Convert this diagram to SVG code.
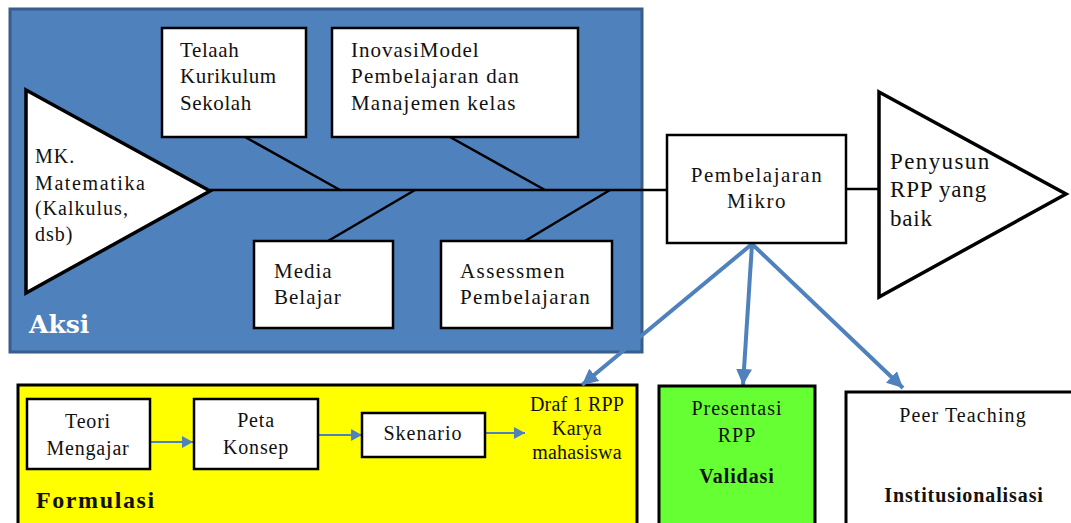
<svg xmlns="http://www.w3.org/2000/svg" width="1071" height="523" viewBox="0 0 1071 523">
  <style>
    .t { font-family: "Liberation Serif", "Times New Roman", serif; font-size: 21px; fill: #111; }
    .f20 { font-size: 20px; }
    .f23 { font-size: 23px; }
    .f24 { font-size: 24px; }
    .c { text-anchor: middle; }
    .b { font-weight: bold; }
    .box { fill: #fff; stroke: #000; stroke-width: 2.5; }
    .bone { stroke: #000; stroke-width: 2.5; fill: none; }
    .tri { fill: #fff; stroke: #000; stroke-width: 3.5; stroke-linejoin: miter; }
    .big { stroke: #4f81bd; stroke-width: 4; fill: none; }
    .small { stroke: #4f81bd; stroke-width: 2; fill: none; }
  </style>
  <defs>
    <marker id="bigHead" markerUnits="userSpaceOnUse" markerWidth="18" markerHeight="16" refX="16" refY="8" orient="auto">
      <path d="M0,0 L16,8 L0,16 Z" fill="#4f81bd"/>
    </marker>
    <marker id="smallHead" markerUnits="userSpaceOnUse" markerWidth="12" markerHeight="12" refX="11" refY="6" orient="auto">
      <path d="M0,0 L11,6 L0,12 Z" fill="#4f81bd"/>
    </marker>
  </defs>

  <rect width="1071" height="523" fill="#fff"/>

  <g id="aksi">
    <rect x="10" y="9" width="632" height="343" fill="#4f81bd" stroke="#385d8a" stroke-width="3"/>
    <text x="29" y="333" font-family="'DejaVu Serif', serif" font-weight="bold" font-size="25" fill="#fff">Aksi</text>
  </g>

  <g id="formulasi">
    <rect x="18" y="385" width="619" height="145" fill="#ffff00" stroke="#000" stroke-width="3"/>
    <text class="t b f24" x="36" y="508" letter-spacing="1.6">Formulasi</text>
  </g>

  <g id="connectors">
    <line class="bone" x1="210" y1="190" x2="667" y2="190"/>
    <line class="bone" x1="846" y1="189" x2="878" y2="189"/>
    <line class="bone" x1="245" y1="137" x2="340" y2="190"/>
    <line class="bone" x1="450" y1="137" x2="545" y2="190"/>
    <line class="bone" x1="415" y1="190" x2="328" y2="241"/>
    <line class="bone" x1="610" y1="190" x2="525" y2="241"/>
    <line class="big" x1="752" y1="244" x2="582" y2="385" marker-end="url(#bigHead)"/>
    <line class="big" x1="752" y1="244" x2="743" y2="385" marker-end="url(#bigHead)"/>
    <line class="big" x1="752" y1="244" x2="903" y2="388" marker-end="url(#bigHead)"/>
    <line class="small" x1="150" y1="442" x2="193" y2="442" marker-end="url(#smallHead)"/>
    <line class="small" x1="318" y1="435" x2="362" y2="435" marker-end="url(#smallHead)"/>
    <line class="small" x1="485" y1="433" x2="525" y2="433" marker-end="url(#smallHead)"/>
  </g>

  <g id="mk-matematika">
    <polygon class="tri" points="26,90 210,191 26,293"/>
    <text class="t f20" x="35" y="163" letter-spacing="1">MK.</text>
    <text class="t f20" x="35" y="190" letter-spacing="1.6">Matematika</text>
    <text class="t f20" x="35" y="215" letter-spacing="1">(Kalkulus,</text>
    <text class="t f20" x="35" y="241" letter-spacing="1">dsb)</text>
  </g>

  <g id="telaah">
    <rect class="box" x="162" y="28" width="144" height="109"/>
    <text class="t" x="180" y="57" letter-spacing="0.6">Telaah</text>
    <text class="t" x="180" y="83" letter-spacing="0.5">Kurikulum</text>
    <text class="t" x="180" y="110" letter-spacing="0.6">Sekolah</text>
  </g>

  <g id="inovasi">
    <rect class="box" x="332" y="28" width="246" height="109"/>
    <text class="t" x="351" y="57" letter-spacing="1">InovasiModel</text>
    <text class="t" x="351" y="83" letter-spacing="1.2">Pembelajaran dan</text>
    <text class="t" x="351" y="110" letter-spacing="1.2">Manajemen kelas</text>
  </g>

  <g id="media">
    <rect class="box" x="254" y="241" width="139" height="87"/>
    <text class="t" x="274" y="278" letter-spacing="1">Media</text>
    <text class="t" x="274" y="304" letter-spacing="1">Belajar</text>
  </g>

  <g id="assessmen">
    <rect class="box" x="441" y="241" width="171" height="87"/>
    <text class="t" x="460" y="278" letter-spacing="1.4">Assessmen</text>
    <text class="t" x="460" y="304" letter-spacing="1.4">Pembelajaran</text>
  </g>

  <g id="pembelajaran-mikro">
    <rect class="box" x="667" y="135" width="179" height="108"/>
    <text class="t c" x="757" y="182" letter-spacing="1.5">Pembelajaran</text>
    <text class="t c" x="757" y="208" letter-spacing="1.5">Mikro</text>
  </g>

  <g id="penyusun-rpp">
    <polygon class="tri" points="879,92 1066,194 879,297"/>
    <text class="t f23" x="890" y="169" letter-spacing="1.4">Penyusun</text>
    <text class="t f23" x="890" y="197" letter-spacing="0.8">RPP yang</text>
    <text class="t f23" x="890" y="226" letter-spacing="0.8">baik</text>
  </g>

  <g id="teori">
    <rect class="box" x="27" y="399" width="123" height="70"/>
    <text class="t c f20" x="88" y="428" letter-spacing="0.8">Teori</text>
    <text class="t c f20" x="88" y="455" letter-spacing="0.8">Mengajar</text>
  </g>

  <g id="peta">
    <rect class="box" x="194" y="399" width="124" height="70"/>
    <text class="t c f20" x="256" y="427" letter-spacing="0.8">Peta</text>
    <text class="t c f20" x="256" y="454" letter-spacing="0.8">Konsep</text>
  </g>

  <g id="skenario">
    <rect class="box" x="362" y="413" width="123" height="44"/>
    <text class="t c f20" x="423" y="440" letter-spacing="1">Skenario</text>
  </g>

  <g id="draf">
    <text class="t c f20" x="577" y="411" letter-spacing="0.2">Draf 1 RPP</text>
    <text class="t c f20" x="577" y="435" letter-spacing="0.2">Karya</text>
    <text class="t c f20" x="577" y="459" letter-spacing="0.2">mahasiswa</text>
  </g>

  <g id="validasi">
    <rect x="659" y="386" width="156" height="145" fill="#66ff33" stroke="#000" stroke-width="3"/>
    <text class="t c f20" x="737" y="415" letter-spacing="1">Presentasi</text>
    <text class="t c f20" x="737" y="442" letter-spacing="1">RPP</text>
    <text class="t c b f20" x="737" y="483" letter-spacing="0.9">Validasi</text>
  </g>

  <g id="institusionalisasi">
    <rect x="846" y="392" width="230" height="140" fill="#fff" stroke="#000" stroke-width="3"/>
    <text class="t c f20" x="963" y="422" letter-spacing="1.1">Peer Teaching</text>
    <text class="t c b f20" x="964" y="502" letter-spacing="0.9">Institusionalisasi</text>
  </g>
</svg>
